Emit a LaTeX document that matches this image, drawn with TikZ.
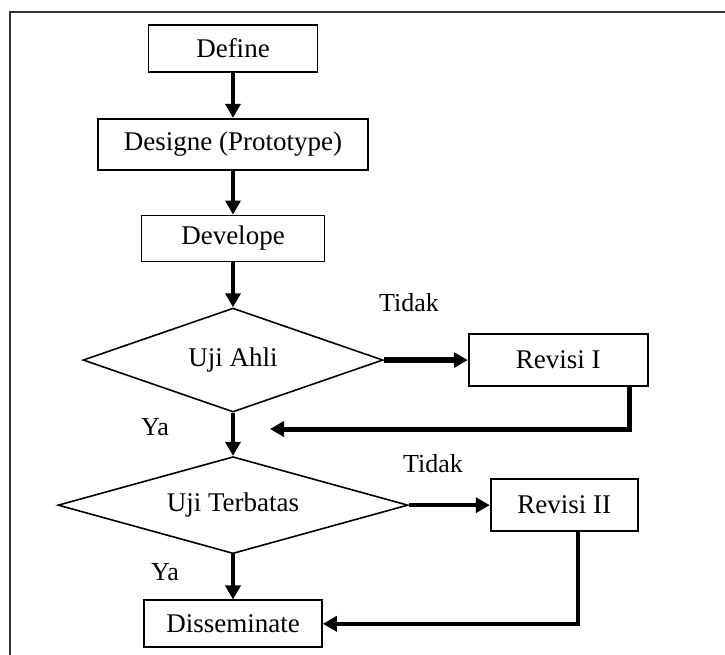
\documentclass[tikz,border=0pt]{standalone}
\usepackage{fontspec}
\setmainfont{Liberation Serif}
\usetikzlibrary{positioning,shapes.geometric,arrows.meta}
\begin{document}
\begin{tikzpicture}[
x=1pt, y=-1pt,
box/.style={rectangle, draw, line width=1.7pt, inner sep=0pt, minimum height=47pt, font=\fontsize{27}{32}\selectfont},
decision/.style={diamond, aspect=3.5, draw, line width=1.6pt, inner sep=0pt, font=\fontsize{27}{32}\selectfont},
lbl/.style={font=\fontsize{26}{31}\selectfont},
arr/.style={line width=4.5pt, -{Triangle[length=14pt,width=15pt]}}
]
\useasboundingbox (0,0) rectangle (725,655);
\draw[line width=1.2pt, black!80] (10,660) -- (10,12) -- (730,12);

\node[box, minimum width=169pt] (define) at (233,48.5) {Define};
\node[box, minimum width=270pt, minimum height=51pt, below=45pt of define] (designe) {Designe (Prototype)};
\node[box, minimum width=183pt, minimum height=46pt, below=44pt of designe] (develope) {Develope};
\node[decision, minimum width=300pt, minimum height=104pt, below=45pt of develope] (ujiahli) {Uji Ahli};
\node[decision, minimum width=350pt, minimum height=97pt, below=43pt of ujiahli] (ujiterbatas) {Uji Terbatas};
\node[box, minimum width=178pt, below=45pt of ujiterbatas] (dissem) {Disseminate};
\node[box, minimum width=179pt, minimum height=52pt, right=84pt of ujiahli] (rev1) {Revisi I};
\node[box, minimum width=147pt, minimum height=52pt, right=81pt of ujiterbatas] (rev2) {Revisi II};

\node[lbl] (tidak1) at (409,303) {Tidak};
\node[lbl] (tidak2) at (433,464) {Tidak};
\node[lbl] (ya1) at (155,427) {Ya};
\node[lbl] (ya2) at (165,572) {Ya};
\coordinate (join1) at (270,429);

\draw[arr] (define) -- (designe);
\draw[arr] (designe) -- (develope);
\draw[arr] (develope) -- (ujiahli);
\draw[arr] (ujiahli) -- (ujiterbatas);
\draw[arr] (ujiterbatas) -- (dissem);
\draw[arr, line width=5.5pt] (ujiahli.east) -- (ujiahli.east -| rev1.west);
\draw[arr] (ujiterbatas.east) -- (ujiterbatas.east -| rev2.west);
\draw[arr, line width=5pt] ([xshift=-19pt]rev1.south east) |- (join1);
\draw[arr] ([xshift=14pt]rev2.south) |- (dissem.east);

\end{tikzpicture}
\end{document}
